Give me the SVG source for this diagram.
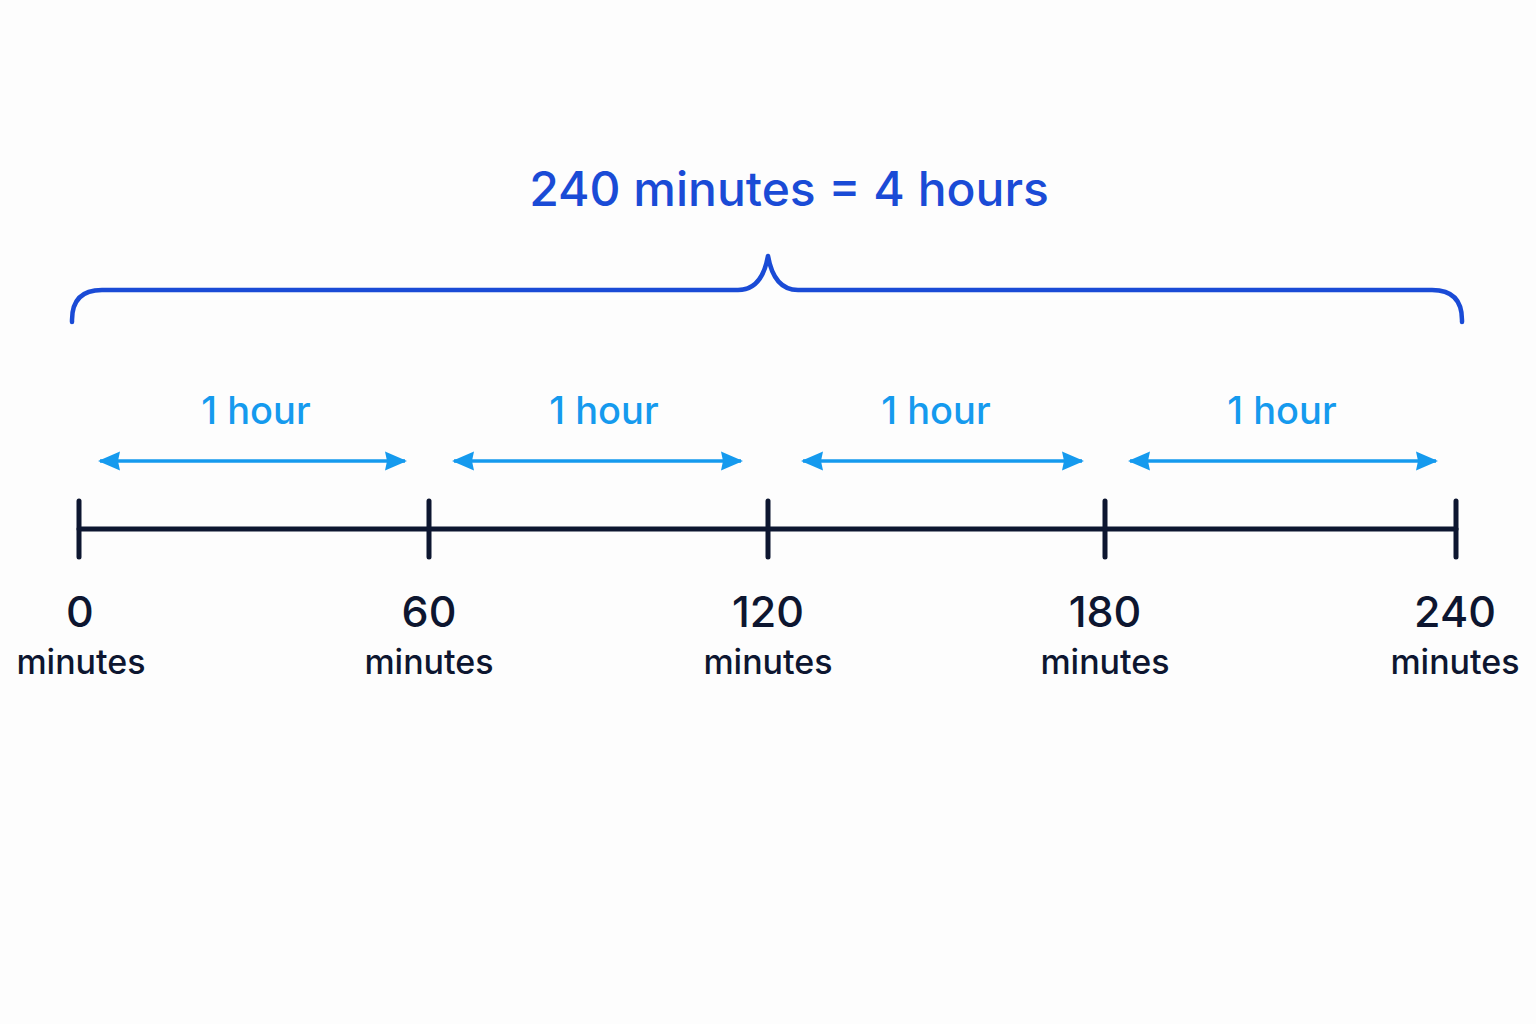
<svg xmlns="http://www.w3.org/2000/svg" width="1536" height="1024" viewBox="0 0 1536 1024">
<style>
.t{font-family:Inter,"Noto Sans","Liberation Sans",sans-serif;font-weight:500;text-anchor:middle}
.title{font-size:48px;fill:#1a4bd6}
.hour{font-size:38px;fill:#159aee}
.num{font-size:43px;fill:#0d1630}
.min{font-size:34px;fill:#0d1630}
.brace{fill:none;stroke:#1a4bd6;stroke-width:4.5;stroke-linecap:round;stroke-linejoin:round}
.axis{fill:none;stroke:#0d1630;stroke-width:5;stroke-linecap:round}
.arr{fill:none;stroke:#159aee;stroke-width:3.5}
.head{fill:#159aee}
</style>
<defs>
<marker id="ah" viewBox="0 0 22 22" refX="20" refY="11" markerWidth="22" markerHeight="22" markerUnits="userSpaceOnUse" orient="auto-start-reverse">
<path class="head" d="M0,1.5 L22,11 L0,20.5 L2,11 Z"/>
</marker>
</defs>
<rect width="1536" height="1024" fill="#fdfdfd"/>
<g id="title"><text class="t title" x="789" y="206">240 minutes = 4 hours</text></g>
<g id="brace"><path class="brace" d="M72,322 L72,320 Q72,290 102,290 L738,290 Q762,290 768,256 Q774,290 798,290 L1432,290 Q1462,290 1462,320 L1462,322"/></g>
<g id="connectors">
<line class="arr" x1="100" y1="461" x2="405" y2="461" marker-start="url(#ah)" marker-end="url(#ah)"/>
<line class="arr" x1="454" y1="461" x2="741" y2="461" marker-start="url(#ah)" marker-end="url(#ah)"/>
<line class="arr" x1="803" y1="461" x2="1082" y2="461" marker-start="url(#ah)" marker-end="url(#ah)"/>
<line class="arr" x1="1130" y1="461" x2="1436" y2="461" marker-start="url(#ah)" marker-end="url(#ah)"/>
</g>
<g id="hour-labels">
<text class="t hour" x="256" y="424">1 hour</text>
<text class="t hour" x="604" y="424">1 hour</text>
<text class="t hour" x="936" y="424">1 hour</text>
<text class="t hour" x="1282" y="424">1 hour</text>
</g>
<g id="axis">
<line class="axis" x1="79" y1="529" x2="1456" y2="529"/>
<line class="axis" x1="79" y1="501" x2="79" y2="557"/>
<line class="axis" x1="429" y1="501" x2="429" y2="557"/>
<line class="axis" x1="768" y1="501" x2="768" y2="557"/>
<line class="axis" x1="1105" y1="501" x2="1105" y2="557"/>
<line class="axis" x1="1456" y1="501" x2="1456" y2="557"/>
</g>
<g id="tick-0"><text class="t num" x="80" y="627">0</text><text class="t min" x="81" y="674">minutes</text></g>
<g id="tick-60"><text class="t num" x="429" y="627">60</text><text class="t min" x="429" y="674">minutes</text></g>
<g id="tick-120"><text class="t num" x="768" y="627">120</text><text class="t min" x="768" y="674">minutes</text></g>
<g id="tick-180"><text class="t num" x="1105" y="627">180</text><text class="t min" x="1105" y="674">minutes</text></g>
<g id="tick-240"><text class="t num" x="1455" y="627">240</text><text class="t min" x="1455" y="674">minutes</text></g>
</svg>
